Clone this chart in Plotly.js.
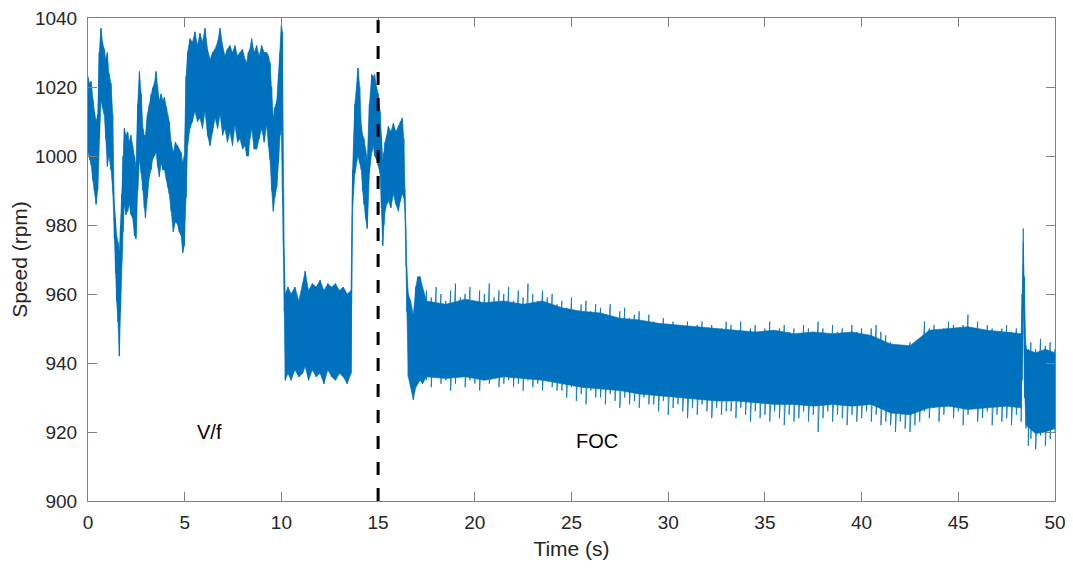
<!DOCTYPE html>
<html>
<head>
<meta charset="utf-8">
<script src="https://cdn.plot.ly/plotly-3.0.1.min.js"></script>
<style>html,body{margin:0;padding:0;background:#fff;}#chart{width:1073px;height:570px;}</style>
</head>
<body>
<div id="chart"></div>
<script>
// ---- Data: upper / lower extremes of the speed signal ----
// V/f start segment
const tA = [0,0.08,0.16,0.25,0.33,0.42,0.5,0.58,0.67,0.75,0.84,0.92,1,1.08,1.19,1.28,1.36,1.42,1.48,1.55,1.62,1.68,1.74,1.81,1.88,1.96,2.05,2.14,2.22,2.31,2.4,2.48,2.57,2.66,2.75,2.84,2.91,2.97,3.07,3.17,3.26,3.34,3.43,3.52,3.6,3.69,3.78,3.87,3.95,4.05,4.12,4.2,4.3,4.41,4.52,4.64,4.72,4.81,4.9,4.98];
const hiA = [1023,1021,1021.6,1016,1013,1010,1012,1030,1037,1033,1031,1028,1030,1024,1021,1012,986,982,977,975,972,980,989,1000,1008,1006,1007,1004,1006,1003,1000,997,1015,1024.5,1018,1008,1006,1006,1012,1015,1018,1019.7,1021,1024.5,1020,1016,1018,1016,1017,1014,1012,1010,1004,1001,1004,1003,1002,1001,998,1000];
const loA = [1001,999,997.5,993,990,986,990,1005,1016,1014,1012,1005,997,1000,996,990,976,966,958,952,942,955,969,978,986,983,984,986,983,982,977,976,990,999,995,990,985,982,988,994,996,999,1000,1001,997,994,998,996,996,993,991,989,984,978,981,980,978,977,972,974];

const tB = [5.07,5.15,5.27,5.4,5.53,5.66,5.79,5.92,6.05,6.18,6.31,6.44,6.57,6.7,6.83,6.96,7.08,7.21,7.34,7.47,7.6,7.73,7.86,7.99,8.12,8.2,8.29,8.37,8.46,8.59,8.72,8.85,8.98,9.11,9.24,9.33,9.41,9.5,9.58,9.66,9.76,9.85,9.93,10,10.05];
const hiB = [1023,1030,1034,1033,1036,1032,1035.6,1033,1037,1031,1028,1030,1031,1033,1037,1032,1029,1031,1032,1030,1032,1029,1030,1031,1028,1027,1030,1031,1034,1030,1032,1029,1032,1030,1030,1029,1027,1020,1011,1014,1016,1024,1030,1038,1036];
const loB = [988,1003,1008,1010,1013,1010,1011,1008,1013,1006,1003,1007,1011,1008,1012,1006,1008,1004,1007,1003,1009,1004,1005,1002,1003,1000,1000,1005,1008,1002,1002,1005,1008,1004,1009,1003,999,990,984,988,991,998,1006,1008,990];

const tC = [10.1,10.15,10.2,10.34,10.5,10.7,10.9,11.1,11.23,11.4,11.6,11.8,12,12.2,12.4,12.6,12.8,13,13.2,13.4,13.6];
const hiC = [985,970,960,962,960,962,958,963,966.6,961,963,962,964,961,963,962,963,961,962,960,961];
const loC = [975,955,935,937,935,938,936,937,939,935,938,936,937,934,938,936,935,937,936,934,937];

const tD = [13.68,13.8,13.96,14.05,14.13,14.2,14.27,14.35,14.44,14.55,14.67,14.75,14.82,14.92,15.01,15.1,15.17,15.24,15.3,15.36,15.45,15.53,15.66,15.79,15.92,16.05,16.15,16.25,16.33,16.39,16.44,16.48,16.56,16.68,16.82,16.95,17.05,17.17,17.3];
const hiD = [996,1015,1025.5,1020,1009,1006,1005,1002,999,1015,1023.6,1023,1023.6,1020,1018,1013,1006,999,1001,1004,1006,1008.6,1007,1009.5,1007,1008.6,1010,1011,1005,990,978,968,960,958,954,962,965,965,962];
const loD = [985,995,1000,998,996,990,986,982,979,995,1001,1003,1000,999,997,995,985,974,980,984,986,987,985,989,986,984,987,989,988,984,968,955,936,933,929.4,933,934,935,934];

// FOC segment: spike extremes
const tE = [17.5,17.75,18,18.25,18.5,18.75,19,19.25,19.5,19.75,20,20.25,20.5,20.75,21,21.25,
  21.5,21.75,22,22.25,22.5,22.75,23,23.25,23.5,23.75,24,24.25,
  24.5,24.75,25,25.25,25.5,25.75,26,26.25,
  26.5,26.75,27,27.25,27.5,27.75,28,28.25,28.5,28.75,29,
  29.25,29.5,29.75,30,30.25,30.5,30.75,31,31.25,31.5,31.75,32,32.25,32.5,32.75,33,
  33.25,33.5,33.75,34,34.25,34.5,34.75,35,35.25,35.5,35.75,36,36.25,36.5,36.75,37,37.25,37.5,37.75,38,38.25,38.5,38.75,39,39.25,39.5,39.75,40,40.25,40.5,40.75,41,41.25,
  41.5,41.75,42,42.25,42.5,42.75,43,
  43.25,43.5,43.75,44,44.25,44.5,44.75,45,45.25,45.5,45.75,46,46.25,46.5,46.75,47,47.25,47.5,47.75,48,48.25,
  48.3,48.36,48.42,48.5,48.62,48.75,49,49.25,49.5,49.75,50];
const hiE = [961,959,962,960,958,961,963,959,960,962,958,961,960,963,959,961,
  960,962,958,961,959,963,960,958,961,959,960,957,
  958,956,959,955,957,958,955,957,
  956,954,957,953,955,956,953,954,955,952,954,
  952,951,953,950,952,951,950,952,949,951,952,950,951,949,950,952,
  951,949,952,948,950,951,949,950,952,948,950,951,949,950,948,951,950,949,952,950,948,951,949,950,948,951,949,950,948,950,951,949,948,
  946,944,945,943,946,944,947,
  952,950,951,949,950,952,951,950,951,954,950,952,949,951,950,948,950,951,949,950,948,
  960,979,965,945,944,946,944,947,945,946,944];
const loE = [935,933,936,934,935,932,934,936,933,935,934,932,935,934,936,933,
  934,935,933,934,932,935,933,934,932,935,933,932,
  932,930,933,929,931,928,932,930,
  930,928,931,929,927,930,928,929,927,930,928,
  928,926,929,925,927,928,926,924,927,925,928,926,924,927,925,926,
  926,924,927,925,923,926,924,925,923,926,924,922,925,923,924,926,923,925,920,924,926,923,925,924,922,925,923,924,926,923,925,922,923,
  922,920,923,921,920,922,923,
  926,924,927,923,925,928,924,926,922,925,927,923,924,926,922,925,923,924,922,925,923,
  935,955,930,921,916,918,915,919,916,918,920];

// FOC segment: dense core of the band
const coreT  = [17.5,18.5,19.5,20.5,21.5,22.5,23.5,24.5,25.5,26.5,27.5,28.5,29.5,30.5,31.5,32.5,33.5,34.5,35.5,36.5,37.5,38.5,39.5,40.5,41.5,42.5,43.5,44.5,45.5,46.5,47.5,48.25,48.3,48.36,48.42,48.5,49,49.5,50];
const coreHi = [958,957,958.5,957.5,958,957,958,956,955,954.5,953,952.5,951.5,951,950.5,950,949.5,949,949.5,948.5,949,948.5,949,948,945.5,945,949.5,950,950.5,949.5,949,948.5,958,975,960,944,943,944,943];
const coreLo = [936,935.5,936,935,936,935.5,935,934,933,932.5,932,931,930.5,930,929.5,929,929,928.5,928,928,927.5,928,927.5,928,925.5,925,927,927.5,926.5,927,927.5,927,938,958,933,922,919.5,920,921];

const switchTime = 15;          // V/f -> FOC switch
const xTicks = [0,5,10,15,20,25,30,35,40,45,50];
const yTicks = [900,920,940,960,980,1000,1020,1040];

// ---- assemble ----
const t  = [].concat(tA, tB, tC, tD, tE);
const hi = [].concat(hiA, hiB, hiC, hiD, hiE);
const lo = [].concat(loA, loB, loC, loD, loE);

const fillT  = [].concat(tA, tB, tC, tD, coreT);
const fillHi = [].concat(hiA, hiB, hiC, hiD, coreHi);
const fillLo = [].concat(loA, loB, loC, loD, coreLo);

// oscillating signal path: at each sample, swing from upper to lower extreme
const sigX = [], sigY = [];
for (let i = 0; i < t.length; i++) { sigX.push(t[i], t[i]); sigY.push(hi[i], lo[i]); }

const blue = '#0072BD';
const traces = [
  {x: fillT, y: fillLo, type: 'scatter', mode: 'lines', line: {color: blue, width: 0.6}, hoverinfo: 'skip', showlegend: false},
  {x: fillT, y: fillHi, type: 'scatter', mode: 'lines', line: {color: blue, width: 0.6}, fill: 'tonexty', fillcolor: blue, hoverinfo: 'skip', showlegend: false},
  {x: sigX, y: sigY, type: 'scatter', mode: 'lines', line: {color: blue, width: 1}, opacity: 0.8, hoverinfo: 'skip', showlegend: false}
];

const axisCommon = {
  showgrid: false, zeroline: false, showline: true, mirror: 'ticks',
  linecolor: '#808080', linewidth: 1, ticks: 'inside', ticklen: 9, tickcolor: '#808080', tickwidth: 1,
  tickfont: {family: 'Liberation Sans, Arial, sans-serif', size: 19, color: '#262626'}
};

const layout = {
  width: 1073, height: 570,
  margin: {l: 88, r: 18, t: 18, b: 69},
  paper_bgcolor: '#ffffff', plot_bgcolor: '#ffffff',
  font: {family: 'Liberation Sans, Arial, sans-serif', color: '#262626'},
  xaxis: Object.assign({}, axisCommon, {
    range: [0, 50], tickvals: xTicks, ticktext: xTicks.map(String), ticklabelstandoff: 4,
    title: {text: 'Time (s)', font: {size: 21, color: '#262626'}, standoff: 9}
  }),
  yaxis: Object.assign({}, axisCommon, {
    range: [900, 1040], tickvals: yTicks, ticktext: yTicks.map(String), ticklabelstandoff: 6,
    title: {text: 'Speed (rpm)', font: {size: 21, color: '#262626'}, standoff: 1}
  }),
  shapes: [{
    type: 'line', xref: 'x', yref: 'paper', x0: switchTime, x1: switchTime, y0: 0, y1: 1,
    line: {color: '#000000', width: 3, dash: '13px,13px'}
  }],
  annotations: [
    {x: 6.3, y: 920, xref: 'x', yref: 'y', text: 'V/f', showarrow: false, font: {size: 20, color: '#000000'}},
    {x: 26.3, y: 917.3, xref: 'x', yref: 'y', text: 'FOC', showarrow: false, font: {size: 20, color: '#000000'}}
  ]
};

Plotly.newPlot('chart', traces, layout, {staticPlot: true, displayModeBar: false});
</script>
</body>
</html>
